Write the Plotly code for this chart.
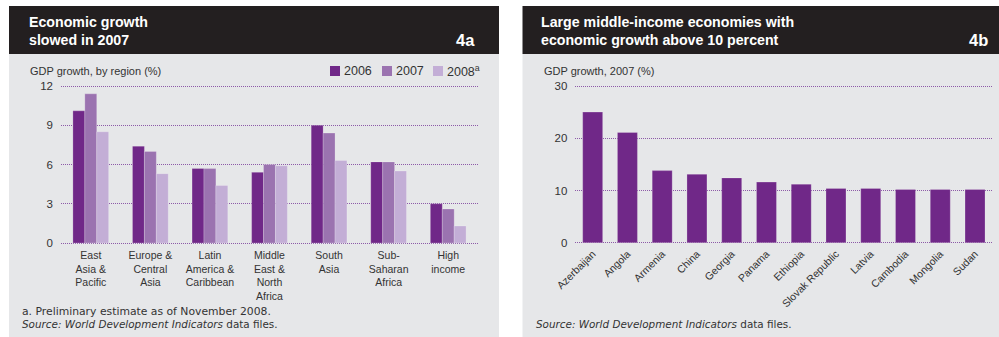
import plotly.graph_objects as go

# ---- Data -------------------------------------------------------------
regions = [
    "East<br>Asia &<br>Pacific",
    "Europe &<br>Central<br>Asia",
    "Latin<br>America &<br>Caribbean",
    "Middle<br>East &<br>North<br>Africa",
    "South<br>Asia",
    "Sub-<br>Saharan<br>Africa",
    "High<br>income",
]
years = ["2006", "2007", "2008<sup>a</sup>"]
growth_2006 = [10.1, 7.4, 5.7, 5.4, 9.0, 6.2, 3.0]
growth_2007 = [11.4, 7.0, 5.7, 6.0, 8.4, 6.2, 2.6]
growth_2008 = [8.5, 5.3, 4.4, 5.9, 6.3, 5.5, 1.3]
region_ticks = [0, 3, 6, 9, 12]

countries = ["Azerbaijan", "Angola", "Armenia", "China", "Georgia", "Panama",
             "Ethiopia", "Slovak Republic", "Latvia", "Cambodia", "Mongolia", "Sudan"]
growth_2007_countries = [25.0, 21.1, 13.8, 13.1, 12.4, 11.6, 11.2, 10.4, 10.4,
                         10.2, 10.2, 10.2]
country_ticks = [0, 10, 20, 30]

# ---- Styling ----------------------------------------------------------
W, H = 999, 337
PANEL = "#e6e7e9"
HEADER = "#231f20"
GRID = "#8d5aa8"
TEXT = "#333333"
FONT = "Liberation Sans, Arial, sans-serif"
NOTE_FONT = "DejaVu Sans, Verdana, sans-serif"
series_colors = ["#702888", "#9b73b0", "#c3aed6"]


def px_x(p):
    return p / W


def px_y(p):
    return 1 - p / H


fig = go.Figure()

for name, vals, col in zip(years, [growth_2006, growth_2007, growth_2008], series_colors):
    fig.add_trace(go.Bar(
        x=regions, y=vals, name=name, marker_color=col,
        marker_line=dict(color="rgba(255,255,255,0.35)", width=0.6),
        xaxis="x", yaxis="y", showlegend=False,
    ))

fig.add_trace(go.Bar(
    x=countries, y=growth_2007_countries, marker_color=series_colors[0],
    marker_line=dict(color="rgba(255,255,255,0.35)", width=0.6),
    width=0.575, xaxis="x2", yaxis="y2", showlegend=False,
))

# ---- Axes -------------------------------------------------------------
def y_domain(rng, v_lo_px, v_hi_px, v_lo, v_hi):
    scale = (v_lo_px - v_hi_px) / (v_hi - v_lo)
    bottom = v_lo_px + (v_lo - rng[0]) * scale
    top = v_hi_px - (rng[1] - v_hi) * scale
    return [px_y(bottom), px_y(top)]


left_range = [-0.2, 12.2]
right_range = [-0.4, 30.4]

common_y = dict(
    showgrid=True, gridcolor=GRID, gridwidth=1, griddash="1px,1px",
    zeroline=False, showline=False, ticks="", ticklabelstandoff=7,
    automargin=False,
    tickfont=dict(family=FONT, size=11.5, color=TEXT), fixedrange=True,
)

fig.update_layout(
    xaxis=dict(domain=[px_x(61), px_x(478)], showgrid=False, showline=False,
               ticks="", tickangle=0, anchor="y", automargin=False,
               ticklabelstandoff=2,
               tickfont=dict(family=FONT, size=10.5, color=TEXT)),
    yaxis=dict(domain=y_domain(left_range, 243, 86, 0, 12), range=left_range,
               tickvals=region_ticks, anchor="x", **common_y),
    xaxis2=dict(domain=[px_x(575.3), px_x(992.4)], showgrid=False, showline=False,
                ticks="", tickangle=-45, anchor="y2", automargin=False,
                tickfont=dict(family=FONT, size=10.5, color=TEXT)),
    yaxis2=dict(domain=y_domain(right_range, 242.7, 86, 0, 30), range=right_range,
                tickvals=country_ticks, anchor="x2", **common_y),
    barmode="group", bargap=0.4, bargroupgap=0,
)

# ---- Panels and headers ------------------------------------------------
shapes = []
for x0, x1 in [(9, 499), (522.5, 999)]:
    shapes.append(dict(type="rect", xref="paper", yref="paper", layer="below",
                       x0=px_x(x0), x1=px_x(x1), y0=px_y(337), y1=px_y(54),
                       fillcolor=PANEL, line_width=0))
    shapes.append(dict(type="rect", xref="paper", yref="paper", layer="below",
                       x0=px_x(x0), x1=px_x(x1), y0=px_y(54), y1=px_y(6),
                       fillcolor=HEADER, line_width=0))

annotations = []


def label(text, x, y, size, color=TEXT, bold=False, xanchor="left", family=FONT):
    annotations.append(dict(
        text=f"<b>{text}</b>" if bold else text,
        x=px_x(x), y=px_y(y), xref="paper", yref="paper",
        xanchor=xanchor, yanchor="middle", showarrow=False,
        font=dict(family=family, size=size, color=color),
    ))


label("Economic growth", 27, 22, 14.2, "white", bold=True)
label("slowed in 2007", 27, 40, 14.2, "white", bold=True)
label("4a", 477, 40, 16.5, "white", bold=True, xanchor="right")
label("Large middle-income economies with", 539, 22, 14.2, "white", bold=True)
label("economic growth above 10 percent", 539, 40, 14.2, "white", bold=True)
label("4b", 990, 40, 16.5, "white", bold=True, xanchor="right")

label("GDP growth, by region (%)", 28, 71, 11)
label("GDP growth, 2007 (%)", 542, 71, 11)

label("a. Preliminary estimate as of November 2008.", 20, 311.5, 10.8, family=NOTE_FONT)
label("<i>Source: World Development Indicators</i> data files.", 20, 323.5, 10.4,
      family=NOTE_FONT)
label("<i>Source: World Development Indicators</i> data files.", 534, 323.5, 10.4,
      family=NOTE_FONT)

# legend swatches and labels for the regional series
legend_x = [330, 382, 433]
for name, col, lx in zip(years, series_colors, legend_x):
    shapes.append(dict(type="rect", xref="paper", yref="paper",
                       x0=px_x(lx), x1=px_x(lx + 10), y0=px_y(76), y1=px_y(66),
                       fillcolor=col, line_width=0))
    label(name, lx + 12, 71, 12.5)

fig.update_layout(
    width=W, height=H, margin=dict(l=0, r=0, t=0, b=0, autoexpand=False),
    paper_bgcolor="white", plot_bgcolor="rgba(0,0,0,0)",
    shapes=shapes, annotations=annotations, showlegend=False,
    font=dict(family=FONT, color=TEXT),
)

fig.write_html("out.html")
